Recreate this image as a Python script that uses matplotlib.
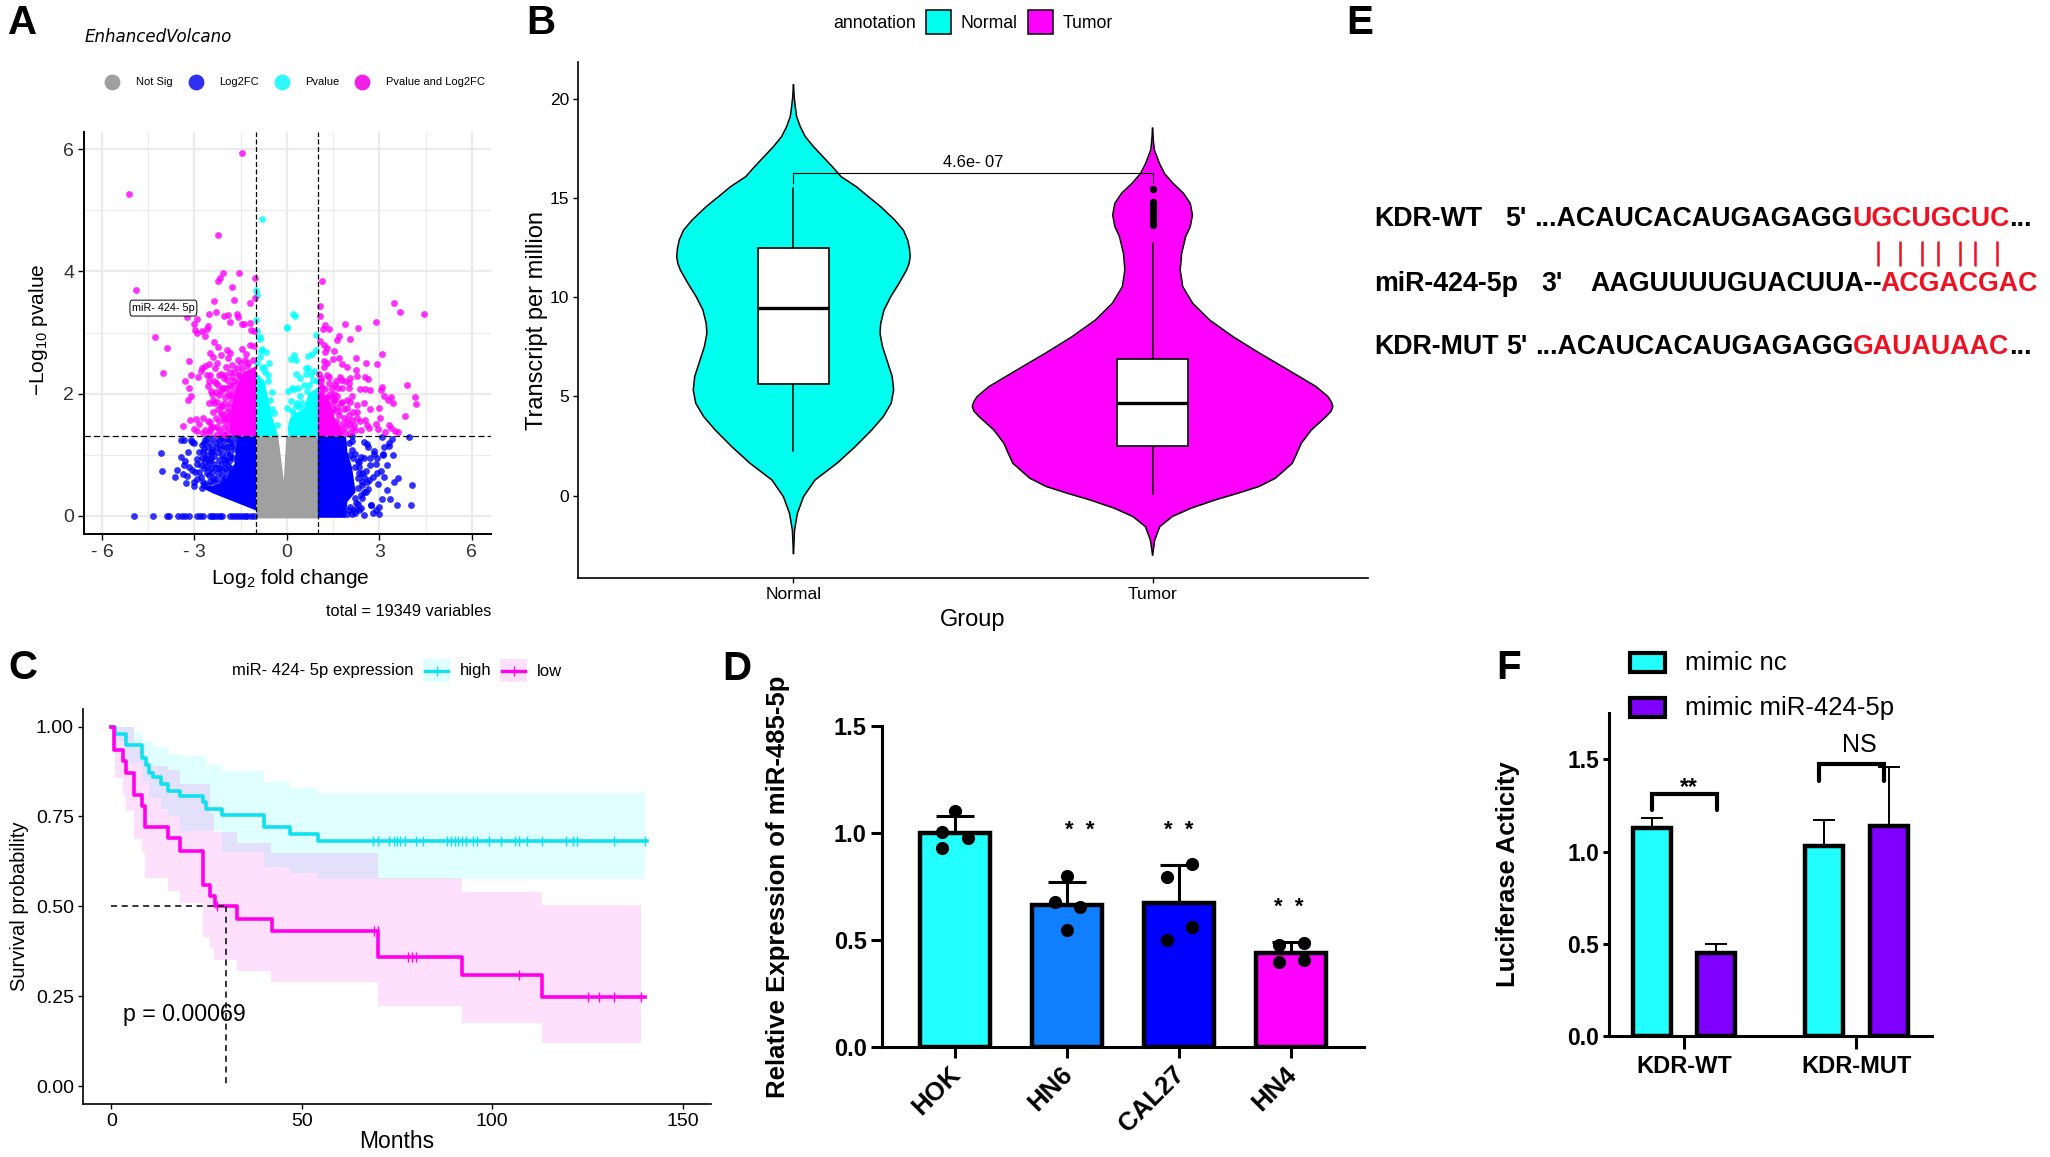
"""Six-panel miR-424-5p figure: volcano, violin, survival, bars, sequences."""

import matplotlib

matplotlib.use("Agg")
import matplotlib.pyplot as plt
from matplotlib.patches import FancyBboxPatch, Rectangle
from matplotlib.transforms import ScaledTranslation

plt.rcParams["font.family"] = ["Liberation Sans", "DejaVu Sans"]
plt.rcParams["mathtext.default"] = "regular"

FIG_W, FIG_H = 2050, 1157
CYAN = "#00FFEE"
MAGENTA = "#FF00FF"
BAR_CYAN = "#22FFFF"
PURPLE = "#7F00FF"
RED = "#EE1122"

# --- panel A: volcano, points read one by one, dense cores as outlines
SIG_X = [-1.45, -5.12, -2.22, -2.06, -2.17, -2.23, -1.55, -1.77, -4.88, -1.04, -2.35, -1.72, -1.2, -1.03,
         -2.54, -2.29, -2.04, -1.92, -1.61, -1.57, -1.85, -1.44, -1.39, -1.2, -3.25, -2.9, -3.0, -2.56,
         -2.58, -2.97, -2.91, -2.76, -2.67, -4.29, -1.16, -1.07, -3.9, -4.03, -3.16, -3.12, -3.32, -3.19,
         -3.1, -3.22, -2.53, -3.36, -3.14, -2.95, -2.85, -3.02, -2.9, -2.72, -2.5, -2.39, -2.71, -2.48,
         -2.39, -2.26, -2.53, -2.02, -2.15, -2.04, -2.37, -2.23, -2.48, -2.14, -2.4, -1.94, -1.86, -1.91,
         -1.45, -1.2, -1.07, -1.34, -2.26, -2.53, -2.64, -2.74, -2.8, -2.88, -2.34, -2.48, -2.15, -2.53,
         -2.55, -2.31, -1.99, -1.77, -1.5, -1.86, -1.61, -1.94, -1.77, -2.31, -2.42, -2.2, -2.04, -2.26,
         -2.15, -1.83, -1.91, -1.96, -1.83, -1.1, -1.3, -1.55, -1.7,
         -2.2, -2.05, -1.85, -2.1, -2.0, -2.35, -2.05, -1.95, -2.1, -1.9, -2.05, -2.2, -1.85, -1.75, -1.6,
         -1.7, -1.45, -1.25, -2.3, -2.2, -1.95, -2.15, -1.9, -2.25, -1.9, -2.45, -1.8, -2.0, -1.85, -2.35,
         -1.75, -1.55, -1.35, -1.6, -2.0, -1.95, -1.8, -2.1, -2.25, -2.4, -2.6, -2.65, -2.3, -2.1, -2.55, -2.45,
         1.15, 1.09, 1.08, 3.47, 3.66, 4.45, 2.88, 1.89, 2.32, 1.23, 1.17, 1.36, 1.68, 1.61, 2.06, 1.06,
         1.21, 1.31, 1.25, 1.54, 3.09, 1.68, 1.49, 2.25, 1.21, 1.31, 1.2, 1.78, 1.95, 2.56, 2.93, 2.25,
         1.04, 2.28, 1.35, 1.71, 2.05, 2.52, 2.63, 1.74, 1.12, 1.58, 1.35, 2.01, 3.89, 1.57, 1.11, 1.25,
         2.02, 2.38, 2.52, 2.68, 3.07, 3.04, 1.11, 1.52, 1.63, 2.1, 3.15, 3.39, 4.17, 3.29, 1.31, 1.52,
         1.94, 1.79, 2.06, 3.44, 2.49, 4.2, 2.27, 1.31, 1.61, 1.96, 3.0, 2.7, 2.28, 3.82, 2.28, 3.02,
         2.36, 2.54, 2.6, 2.66, 2.9, 2.97, 2.41, 2.12, 2.17, 2.1, 3.18, 3.32, 3.39, 3.52, 3.6,
         1.45, 1.6, 1.7, 1.85, 1.9, 1.75, 2.0, 2.0, 1.85, 1.65, 1.45, 1.25, 1.4, 1.15, 1.55,
         1.7, 1.9, 2.05, 1.6, 1.5, 1.8, 1.3, 1.15, 1.5, 1.75, 1.25, 1.95, 2.15, 2.2, 1.1, 1.45, 1.65, 1.8,
         1.9, 1.3]
SIG_Y = [5.93, 5.26, 4.60, 3.97, 3.89, 3.84, 3.98, 3.74, 3.69, 3.89, 3.52, 3.54, 3.48, 3.56,
         3.30, 3.33, 3.27, 3.28, 3.31, 3.25, 3.17, 3.14, 3.14, 3.15, 3.26, 3.22, 3.14, 3.10,
         3.05, 3.04, 3.0, 3.02, 2.95, 2.92, 3.04, 3.02, 2.74, 2.34, 2.54, 2.30, 2.2, 2.09,
         1.96, 1.89, 1.85, 1.47, 1.57, 1.58, 1.51, 1.42, 1.39, 1.6, 1.54, 1.7, 1.36, 1.4,
         1.46, 1.46, 1.38, 1.33, 1.68, 1.58, 2.84, 2.76, 2.67, 2.63, 2.6, 2.72, 2.66, 2.59,
         2.73, 2.8, 2.78, 2.65, 2.51, 2.49, 2.45, 2.42, 2.37, 2.27, 2.42, 2.31, 2.33, 2.21,
         2.13, 2.17, 2.44, 2.47, 2.5, 2.36, 2.42, 2.22, 2.28, 2.02, 2.0, 1.98, 2.09, 1.87,
         1.8, 1.98, 1.79, 1.62, 1.54, 2.55, 2.45, 2.3, 2.2,
         2.3, 2.25, 2.15, 2.1, 1.95, 1.85, 1.85, 1.7, 1.65, 1.45, 1.45, 1.55, 1.85, 2.05, 2.2,
         2.35, 2.4, 2.5, 1.6, 1.4, 1.35, 2.05, 2.0, 2.15, 1.6, 2.05, 1.4, 1.55, 1.7, 2.2,
         2.15, 2.3, 2.55, 2.55, 2.3, 2.1, 1.95, 1.8, 1.75, 1.9, 2.3, 1.4, 1.32, 1.35, 1.55, 1.45,
         3.84, 3.44, 3.27, 3.48, 3.33, 3.31, 3.17, 3.14, 3.07, 3.12, 3.05, 3.05, 2.95, 2.88, 2.89, 2.86,
         2.79, 2.75, 2.68, 2.70, 2.65, 2.58, 2.56, 2.58, 2.54, 2.50, 2.44, 2.49, 2.44, 2.50, 2.49, 2.39,
         2.32, 2.29, 2.27, 2.27, 2.25, 2.28, 2.24, 2.23, 2.21, 2.2, 2.18, 2.17, 2.15, 2.14, 2.12, 2.08,
         2.1, 2.08, 2.07, 2.06, 2.11, 2.06, 2.01, 2.0, 1.96, 1.97, 1.96, 1.95, 1.94, 1.9, 1.93, 1.9,
         1.9, 1.86, 1.87, 1.85, 1.84, 1.83, 1.82, 1.79, 1.78, 1.76, 1.77, 1.75, 1.7, 1.63, 1.6, 1.6,
         1.56, 1.57, 1.48, 1.44, 1.5, 1.42, 1.4, 1.57, 1.48, 1.44, 1.38, 1.48, 1.44, 1.39, 1.37,
         1.7, 1.55, 1.65, 1.6, 1.45, 1.4, 1.5, 1.65, 1.75, 1.72, 1.85, 1.75, 2.0, 2.1, 1.9,
         1.35, 1.35, 1.35, 1.45, 1.75, 1.5, 1.95, 1.85, 1.95, 1.85, 1.6, 1.55, 1.7, 1.4, 2.25, 2.1, 2.1, 2.1,
         2.2, 2.3]
PVAL_X = [-0.81, -1.0, -0.98, -1.0, 0.2, 0.0, -0.96, -0.88, -0.88, -0.85, -0.67, -0.58, -0.75, -0.96, -0.88,
          -0.62, -0.6, -0.48, -0.42, -0.31, -0.8, 0.25, 0.01, 0.95, 0.95, 0.82, 0.67, 0.23, 0.12, 0.28, 0.61,
          0.69, 0.88, 0.77, 0.3, 0.44, 0.63, 0.55, 0.98, 0.03, 0.17, 0.23, 0.36, 0.71, 0.44, 0.66, 0.77, 0.14,
          0.01, 0.34, 0.23, -0.55, -0.7, -0.82, -0.47, 0.5, 0.85, 0.42, 0.15, 0.28]
PVAL_Y = [4.85, 3.7, 3.62, 3.21, 3.3, 3.09, 3.02, 2.93, 2.9, 2.69, 2.68, 2.51, 2.44, 2.51, 2.6,
          2.31, 2.2, 2.03, 1.68, 1.49, 2.73, 3.27, 3.07, 2.96, 2.71, 2.65, 2.61, 2.63, 2.56, 2.55, 2.42,
          2.42, 2.37, 2.32, 2.32, 2.25, 2.32, 2.14, 2.21, 2.05, 2.1, 2.07, 2.09, 2.15, 1.96, 2.05, 1.96, 1.88,
          1.77, 1.85, 1.66, 1.9, 2.35, 2.42, 1.75, 1.85, 2.22, 1.78, 1.72, 1.8]
FC_X = [-4.08, -4.04, -3.45, -3.34, -3.12, -3.07, -3.02, -3.2, -3.44, -3.29, -3.34, -3.18, -3.07, -2.98,
        -3.56, -3.36, -3.63, -3.23, -3.26, -3.02, -3.02, -2.8, -2.71, -2.75, -2.69, -2.75, -2.71, -2.93,
        -2.42, -2.42, -2.64, -2.48, -2.17, -2.15, -2.53, -2.8, -2.69, -2.42, -2.1, -1.94, -1.86, -1.99,
        -1.83, -2.2, -2.31, -2.53, -2.48, -2.26, -1.83, -1.66,
        -2.6, -2.4, -2.05, -1.95, -2.3, -2.05, -1.75, -2.6, -2.35, -2.25, -2.15, -2.0, -1.9, -2.05, -1.95,
        -2.35, -2.6, -2.25, -2.1, -2.4, -2.6, -2.85, -2.55, -2.35, -2.15, -2.0, -2.7, -2.9, -2.2, -2.45,
        -1.8, -1.88, -1.75, -2.85, -2.55, -2.3, -2.65, -1.7, -1.78,
        -2.65, -2.5, -2.2, -2.45, -2.15, -1.85, -1.95, -2.1, -2.3, -2.05, -1.8, -2.45, -2.75, -2.9, -2.7, -2.0,
        -4.97, -4.34, -3.9, -3.83, -3.54, -3.39, -3.29, -3.16, -2.91, -2.83, -2.71, -2.5, -2.42, -2.35,
        -2.26, -2.18, -2.1, -1.86, -1.75, -1.66, -1.56, -1.45, -1.36, -1.29, -1.18, -1.07,
        3.97, 3.09, 3.42, 3.31, 3.32, 2.1, 2.1, 2.5, 2.6, 2.63, 3.15, 3.45, 3.12, 2.84, 2.82, 2.69, 2.93,
        3.11, 2.39, 2.2, 2.12, 3.25, 2.88, 2.71, 2.5, 2.33, 3.06, 2.91, 2.55, 2.35, 3.15, 2.8, 2.66, 2.5,
        3.59, 3.47, 4.07, 2.94, 3.25, 2.63, 2.5, 2.41, 3.09, 3.33, 2.74, 2.74, 3.58, 4.03, 2.98, 2.88,
        2.8, 3.0, 2.5, 2.41, 2.3, 2.23,
        2.0, 2.05, 2.15, 2.3, 2.2, 2.35, 2.45, 2.3, 2.45, 2.6, 2.3, 2.45, 2.2, 2.25, 2.35, 2.15, 2.05, 2.2,
        2.1, 2.45, 2.55, 2.0, 1.95]
FC_Y = [1.03, 0.74, 1.25, 1.25, 1.25, 1.21, 1.19, 1.04, 0.96, 0.9, 0.84, 0.8, 0.75, 0.72,
        0.75, 0.69, 0.63, 0.66, 0.54, 0.56, 0.49, 0.64, 0.56, 0.45, 1.19, 1.16, 1.04, 0.93,
        1.1, 1.04, 0.94, 0.91, 1.16, 1.28, 0.89, 0.83, 0.78, 0.72, 1.0, 1.13, 1.02, 0.91,
        0.97, 0.91, 0.78, 0.67, 0.58, 0.48, 1.27, 1.28,
        1.27, 1.28, 1.25, 1.26, 1.2, 1.15, 1.2, 1.0, 0.98, 1.05, 0.85, 0.78, 0.82, 0.95, 1.05,
        0.85, 0.8, 0.7, 0.65, 0.62, 0.7, 0.72, 0.5, 0.55, 0.55, 0.62, 0.52, 0.6, 0.78, 0.78,
        1.12, 0.9, 0.95, 1.05, 1.12, 1.12, 0.88, 1.1, 0.72,
        1.25, 1.2, 1.25, 1.05, 1.1, 1.2, 0.72, 0.75, 0.6, 0.55, 0.78, 0.95, 0.95, 0.85, 1.1, 0.88,
        0, 0, 0, 0, 0, 0, 0, 0, 0, 0, 0, 0, 0, 0,
        0, 0, 0, 0, 0, 0, 0, 0, 0, 0, 0, 0,
        1.29, 1.29, 1.26, 1.19, 1.14, 1.3, 1.23, 1.21, 1.17, 1.12, 1.12, 0.99, 1.02, 1.06, 1.02, 0.95, 0.94,
        1.0, 0.97, 1.02, 1.08, 0.83, 0.85, 0.84, 0.94, 0.89, 0.74, 0.71, 0.73, 0.7, 0.63, 0.64, 0.59, 0.64,
        0.62, 0.56, 0.51, 0.52, 0.43, 0.44, 0.4, 0.35, 0.27, 0.27, 0.18, 0.18, 0.18, 0.18, 0.14, 0.1,
        0.05, 0.03, 0.01, 0.13, 0.19, 0.12,
        1.2, 1.0, 0.95, 0.9, 0.8, 0.8, 0.7, 0.62, 0.55, 0.55, 0.45, 0.5, 0.3, 0.22, 0.1, 0.1, 0.15, 0.05,
        0.03, 0.3, 0.4, 0.1, 0.03]

GREY_CORE_X = [-1.0, -0.28, -0.1, -0.02, 1.0, 1.0, -1.0]
GREY_CORE_Y = [1.3, 1.3, 0.58, 1.3, 1.3, -0.04, -0.04]
BLUE_LEFT_X = [-1.0, -1.4, -1.9, -2.4, -2.8, -2.3, -1.95, -1.7, -1.62, -1.0]
BLUE_LEFT_Y = [0.09, 0.17, 0.27, 0.37, 0.47, 0.5, 0.62, 0.85, 1.3, 1.3]
BLUE_RIGHT_X = [1.0, 1.92, 1.96, 2.12, 2.23, 1.96, 1.92, 1.0]
BLUE_RIGHT_Y = [1.3, 1.3, 1.05, 0.78, 0.39, 0.23, -0.03, -0.03]
CYAN_LEFT_X = [-1.0, -0.28, -0.4, -0.52, -0.62, -0.72, -1.0]
CYAN_LEFT_Y = [1.3, 1.3, 1.5, 1.7, 1.95, 2.2, 2.35]
CYAN_RIGHT_X = [0.05, 1.0, 1.0, 0.7, 0.55, 0.35, 0.1, 0.03]
CYAN_RIGHT_Y = [1.3, 1.3, 2.1, 2.0, 1.75, 1.7, 1.6, 1.45]
MAG_LEFT_X = [-1.0, -1.8, -1.85, -1.75, -1.65, -1.4, -1.0]
MAG_LEFT_Y = [1.3, 1.3, 1.6, 1.9, 2.1, 2.35, 2.45]
MAG_RIGHT_X = [1.0, 1.8, 1.75, 1.55, 1.4, 1.2, 1.0]
MAG_RIGHT_Y = [1.3, 1.3, 1.45, 1.6, 1.85, 2.0, 2.05]

# --- panel B: violin outlines (half width in category units)
NORMAL_Y = [20.69, 20.10, 19.60, 19.09, 18.59, 18.09, 17.58, 17.08, 16.58, 16.07, 15.57, 15.06, 14.56,
            13.89, 13.38, 12.88, 12.46, 12.04, 11.70, 11.37, 10.70, 10.03, 9.35, 8.68, 8.18, 7.51, 6.67, 6.00,
            5.32, 4.65, 3.98, 3.31, 2.47, 1.63, 0.79, -0.05, -0.89, -1.73, -2.91]
NORMAL_HALF = [0, .002, .005, .009, .019, .033, .056, .082, .108, .133, .175, .209, .243,
               .282, .306, .318, .323, .325, .322, .315, .294, .271, .252, .243, .241, .248, .263, .275,
               .279, .272, .250, .218, .172, .121, .060, .028, .011, .003, 0]
TUMOR_Y = [18.51, 17.92, 17.42, 16.75, 16.24, 15.74, 15.24, 14.73, 14.14, 13.56, 13.05, 12.21, 11.37,
           10.53, 9.69, 8.85, 8.01, 7.18, 6.34, 5.50, 5.0, 4.72, 4.49, 4.25, 3.98, 3.31, 2.64, 2.14, 1.63, 0.88,
           0.46, 0.12, -0.21, -0.63, -1.05, -1.56, -2.23, -2.98]
TUMOR_HALF = [0, .002, .005, .019, .033, .057, .086, .105, .111, .105, .092, .081, .077,
              .084, .112, .159, .224, .298, .377, .455, .488, .498, .502, .497, .483, .442, .414, .402, .389, .342,
              .296, .237, .175, .107, .055, .020, .006, 0]
BOX_STATS = [
    {"low": 2.27, "q1": 5.63, "med": 9.47, "q3": 12.49, "high": 15.48},
    {"low": 0.09, "q1": 2.52, "med": 4.69, "q3": 6.87, "high": 12.72},
]
TUMOR_OUTLIERS = [15.44, 14.82, 14.65, 14.48, 14.31, 14.15, 13.98, 13.81, 13.64]

# --- panel C: Kaplan-Meier steps
HIGH_T = [0, 1, 4, 8.2, 9.2, 10, 11, 13, 15, 18, 24, 25, 29, 40, 47, 54.2, 140.5]
HIGH_S = [1.0, .98, .948, .913, .893, .872, .86, .84, .82, .806, .79, .772, .755, .72, .70, .683, .683]
HIGH_CENS = [68.8, 69.9, 73, 74.1, 75.1, 75.9, 77, 80, 81.9, 88, 89.2, 90.2, 91.1, 92.1, 93, 95, 96.1,
             99.2, 102.2, 106, 107, 109, 113, 119.3, 121.2, 122.2, 132, 140.1]
LOW_T = [0, 0.7, 3.1, 4, 6, 8.2, 9, 15, 18, 24, 26, 27.2, 33, 42.2, 70, 92, 113, 140]
LOW_S = [1.0, .935, .905, .87, .81, .78, .72, .69, .655, .56, .53, .50, .466, .432, .36, .31, .247, .247]
LOW_CENS = [27.8, 69, 69.9, 78, 78.9, 80, 107, 125, 128, 132, 139]
HIGH_UP_T = [0, 6, 8, 11, 15, 18, 25, 29, 40, 47, 54, 140]
HIGH_UP_S = [1.0, .985, .96, .944, .925, .917, .893, .877, .845, .828, .814, .814]
HIGH_LO_T = [0, 1, 4, 8.2, 10, 13, 15, 18, 29, 40, 47, 54, 140]
HIGH_LO_S = [1.0, .96, .90, .85, .80, .77, .75, .71, .651, .61, .592, .575, .575]
LOW_UP_T = [0, 6, 9, 15, 18, 26, 27, 33, 42, 70, 92, 113, 139]
LOW_UP_S = [1.0, .94, .89, .88, .84, .76, .708, .675, .647, .578, .541, .504, .504]
LOW_LO_T = [0, 1, 3, 4, 6, 8, 9, 15, 18, 24, 26, 27, 33, 42, 70, 92, 113, 139]
LOW_LO_S = [1.0, .856, .81, .766, .687, .652, .578, .543, .508, .416, .383, .352, .32, .29, .224, .176, .12, .12]

# --- panel D
CELL_LINES = ["HOK", "HN6", "CAL27", "HN4"]
CELL_VALUES = [1.0, 0.665, 0.675, 0.44]
CELL_ERR_TOP = [1.08, 0.772, 0.851, 0.489]
CELL_COLORS = [BAR_CYAN, "#0F7FFF", "#0000FF", MAGENTA]
CELL_DOTS = [
    [(0, 1.103), (-0.113, 1.007), (0.113, 0.976), (-0.113, 0.93)],
    [(0, 0.797), (-0.113, 0.677), (0.113, 0.652), (0, 0.545)],
    [(0.113, 0.853), (-0.113, 0.795), (0.113, 0.559), (-0.113, 0.498)],
    [(-0.113, 0.478), (0.113, 0.485), (-0.113, 0.398), (0.113, 0.408)],
]
STAR_X = [1.108, 1.995, 2.98]
STAR_Y = [1.01, 1.01, 0.65]

# --- panel F
CONSTRUCTS = ["KDR-WT", "KDR-MUT"]
NC_VALUES = [1.13, 1.03]
MIMIC_VALUES = [0.45, 1.14]
NC_ERR_TOP = [1.185, 1.174]
MIMIC_ERR_TOP = [0.50, 1.457]

# --- panel E: (text, colour, left edge px) per row
SEQ_ROWS = [
    (219, [("KDR-WT", "black", 1374), ("5'", "black", 1505), ("...ACAUCACAUGAGAGG", "black", 1534),
           ("UGCUGCUC", RED, 1852), ("...", "black", 2009)]),
    (284, [("miR-424-5p", "black", 1374), ("3'", "black", 1541), ("AAGUUUUGUACUUA--", "black", 1590),
           ("ACGACGAC", RED, 1880)]),
    (347, [("KDR-MUT", "black", 1374), ("5'", "black", 1506), ("...ACAUCACAUGAGAGG", "black", 1535),
           ("GAUAUAAC", RED, 1853), ("...", "black", 2009)]),
]
PAIR_X = [1878, 1900, 1922, 1938, 1960, 1975, 1997]


def axes_px(fig, left, top, right, bottom):
    """Axes placed by reference pixel edges."""
    return fig.add_axes([left / FIG_W, 1 - bottom / FIG_H, (right - left) / FIG_W, (bottom - top) / FIG_H])


def classic(ax, lw=1.1):
    for side in ("top", "right"):
        ax.spines[side].set_visible(False)
    for side in ("left", "bottom"):
        ax.spines[side].set_linewidth(lw)


def draw_volcano(fig):
    ax = axes_px(fig, 84, 132, 491, 534)
    ax.set_xlim(-6.58, 6.62)
    ax.set_ylim(-0.295, 6.28)
    classic(ax, 1.4)
    ax.set_axisbelow(True)
    ax.set_xticks([-6, -3, 0, 3, 6], ["- 6", "- 3", "0", "3", "6"])
    ax.set_yticks([0, 2, 4, 6])
    ax.set_xticks([-4.5, -1.5, 1.5, 4.5], minor=True)
    ax.set_yticks([1, 3, 5], minor=True)
    ax.grid(which="major", color="#EBEBEB", lw=1.6)
    ax.grid(which="minor", color="#EBEBEB", lw=0.8)
    ax.tick_params(which="minor", length=0)
    ax.tick_params(which="major", labelsize=14, labelcolor="#333333", length=4, width=1, pad=3)

    ax.fill(GREY_CORE_X, GREY_CORE_Y, color="#A0A0A0", lw=0)
    ax.fill(BLUE_LEFT_X, BLUE_LEFT_Y, color="#0000FF", lw=0)
    ax.fill(BLUE_RIGHT_X, BLUE_RIGHT_Y, color="#0000FF", lw=0)
    ax.fill(CYAN_LEFT_X, CYAN_LEFT_Y, color="#00FFFF", lw=0)
    ax.fill(CYAN_RIGHT_X, CYAN_RIGHT_Y, color="#00FFFF", lw=0)
    ax.fill(MAG_LEFT_X, MAG_LEFT_Y, color=MAGENTA, lw=0)
    ax.fill(MAG_RIGHT_X, MAG_RIGHT_Y, color=MAGENTA, lw=0)
    ax.scatter(FC_X, FC_Y, s=24, color="#0000FF", alpha=0.8, lw=0)
    ax.scatter(PVAL_X, PVAL_Y, s=24, color="#00FFFF", alpha=0.8, lw=0)
    ax.scatter(SIG_X, SIG_Y, s=24, color=MAGENTA, alpha=0.8, lw=0)

    for xv in (-1, 1):
        ax.axvline(xv, color="black", lw=0.9, dashes=(4, 2))
    ax.axhline(1.3, color="black", lw=0.9, dashes=(5, 2.5))
    ax.add_patch(FancyBboxPatch((-5.09, 3.27), 2.17, 0.26, boxstyle="round,pad=0,rounding_size=0.07",
                                fc="white", ec="black", lw=0.7, mutation_aspect=1, zorder=5))
    ax.text(-4.0, 3.40, "miR- 424- 5p", fontsize=7.8, ha="center", va="center", zorder=6)


def draw_violin(fig):
    ax = axes_px(fig, 578, 62, 1368, 578)
    ax.set_xlim(-0.6, 1.6)
    ax.set_ylim(-4.15, 21.85)
    classic(ax, 1.2)
    outlines = [(NORMAL_Y, NORMAL_HALF, CYAN), (TUMOR_Y, TUMOR_HALF, MAGENTA)]
    for pos, (ys, half, color) in enumerate(outlines):
        left = [pos - h for h in half]
        right = [pos + h for h in half]
        ax.fill_betweenx(ys, left, right, color=color, lw=0)
        ax.plot(left, ys, color="black", lw=1.1)
        ax.plot(right, ys, color="black", lw=1.1)
    for pos, st in enumerate(BOX_STATS):
        ax.plot([pos, pos], [st["low"], st["q1"]], color="black", lw=1.1, zorder=3)
        ax.plot([pos, pos], [st["q3"], st["high"]], color="black", lw=1.1, zorder=3)
        ax.add_patch(Rectangle((pos - 0.1, st["q1"]), 0.2, st["q3"] - st["q1"], fc="white", ec="black",
                               lw=1.2, zorder=3))
        ax.plot([pos - 0.1, pos + 0.1], [st["med"], st["med"]], color="black", lw=2.4, zorder=4,
                solid_capstyle="butt")
    ax.scatter([1] * len(TUMOR_OUTLIERS), TUMOR_OUTLIERS, s=28, color="black", lw=0, zorder=4)
    ax.plot([0, 0, 1, 1], [15.77, 16.24, 16.24, 15.77], color="black", lw=0.8, zorder=5)
    ax.text(0.5, 16.8, "4.6e- 07", fontsize=11.8, ha="center", va="center")
    ax.set_xticks([0, 1], ["Normal", "Tumor"])
    ax.set_yticks([0, 5, 10, 15, 20])
    ax.tick_params(labelsize=12.5, length=3.5, width=1, pad=3)
    ax.set_xlabel("Group", fontsize=17, labelpad=5)
    ax.set_ylabel("Transcript per million", fontsize=17, labelpad=1)


def draw_survival(fig):
    ax = axes_px(fig, 83, 709, 711, 1104)
    ax.set_xlim(-7.4, 157.4)
    ax.set_ylim(-0.05, 1.049)
    classic(ax, 1.2)
    # bands are drawn as paired step edges on their own time grids
    for up_t, up_s, lo_t, lo_s, color in [
        (HIGH_UP_T, HIGH_UP_S, HIGH_LO_T, HIGH_LO_S, "#00FFFF"),
        (LOW_UP_T, LOW_UP_S, LOW_LO_T, LOW_LO_S, "#FF00EE"),
    ]:
        xs = sorted(set(up_t) | set(lo_t))
        upper = [next(s for t, s in zip(reversed(up_t), reversed(up_s)) if t <= x) for x in xs]
        lower = [next(s for t, s in zip(reversed(lo_t), reversed(lo_s)) if t <= x) for x in xs]
        ax.fill_between(xs, lower, upper, step="post", color=color, alpha=0.12, lw=0)
    ax.step(HIGH_T, HIGH_S, where="post", color="#10E0F0", lw=2.6)
    ax.step(LOW_T, LOW_S, where="post", color="#FF00EE", lw=2.6)
    ax.plot(HIGH_CENS, [HIGH_S[-1]] * len(HIGH_CENS), ls="", marker="|", ms=7, mew=1, color="#10E0F0")
    low_at = [next(s for t, s in zip(reversed(LOW_T), reversed(LOW_S)) if t <= c) for c in LOW_CENS]
    ax.plot(LOW_CENS, low_at, ls="", marker="|", ms=7, mew=1, color="#FF00EE")
    ax.plot([0, 30], [0.5, 0.5], color="black", lw=1.1, dashes=(4, 3))
    ax.plot([30, 30], [0.5, 0], color="black", lw=1.1, dashes=(4, 3))
    ax.text(3, 0.198, "p = 0.00069", fontsize=16.7, ha="left", va="center")
    ax.set_xticks([0, 50, 100, 150])
    ax.set_yticks([0, 0.25, 0.5, 0.75, 1.0], ["0.00", "0.25", "0.50", "0.75", "1.00"])
    ax.tick_params(labelsize=14, length=3.5, width=1, pad=3)
    ax.set_xlabel("Months", fontsize=16.5, labelpad=0)
    ax.set_ylabel("Survival probability", fontsize=14.5, labelpad=5)


def prism_axes(ax, labelsize):
    classic(ax, 2.2)
    ax.tick_params(axis="both", width=2.2, length=8, labelsize=labelsize, pad=3)
    for label in ax.get_yticklabels() + ax.get_xticklabels():
        label.set_fontweight("bold")


def draw_cell_bars(fig):
    ax = axes_px(fig, 882, 726, 1364, 1047)
    ax.set_xlim(-0.653, 3.65)
    ax.set_ylim(0, 1.5)
    positions = range(len(CELL_LINES))
    ax.bar(positions, CELL_VALUES, width=0.62, color=CELL_COLORS, edgecolor="black", linewidth=3.2, zorder=2)
    for pos, value, top, dots in zip(positions, CELL_VALUES, CELL_ERR_TOP, CELL_DOTS):
        ax.errorbar(pos, value, yerr=[[0], [top - value]], color="black", elinewidth=2.2, capsize=14,
                    capthick=2.2, zorder=3)
        ax.scatter([pos + d[0] for d in dots], [d[1] for d in dots], s=90, color="black", lw=0, zorder=4,
                   clip_on=False)
    for xv, yv in zip(STAR_X, STAR_Y):
        ax.text(xv, yv, "*  *", fontsize=16, fontweight="bold", ha="center", va="center")
    ax.set_xticks(list(positions), CELL_LINES)
    ax.set_yticks([0, 0.5, 1.0, 1.5], ["0.0", "0.5", "1.0", "1.5"])
    prism_axes(ax, 17)
    # rotated labels sit a little left of their ticks in the original
    nudge = ScaledTranslation(-5 / 72, 0, fig.dpi_scale_trans)
    for label in ax.get_xticklabels():
        label.set_fontsize(18.5)
        label.set_rotation(45)
        label.set_ha("right")
        label.set_rotation_mode("anchor")
        label.set_transform(label.get_transform() + nudge)
    ax.set_ylabel("Relative Expression of miR-485-5p", fontsize=18.5, fontweight="bold")
    ax.yaxis.set_label_coords(-0.19, 0.50)


def draw_luciferase(fig):
    ax = axes_px(fig, 1609, 713, 1932, 1036)
    ax.set_xlim(-0.436, 1.44)
    ax.set_ylim(0, 1.752)
    groups = [0, 1]
    offset = 0.188
    width = 0.22
    ax.bar([g - offset for g in groups], NC_VALUES, width=width, color=BAR_CYAN, edgecolor="black", linewidth=3.2)
    ax.bar([g + offset for g in groups], MIMIC_VALUES, width=width, color=PURPLE, edgecolor="black", linewidth=3.2)
    for shift, values, tops in [(-offset, NC_VALUES, NC_ERR_TOP), (offset, MIMIC_VALUES, MIMIC_ERR_TOP)]:
        for g, value, top in zip(groups, values, tops):
            ax.errorbar(g + shift, value, yerr=[[0], [top - value]], color="black", elinewidth=1.4, capsize=8,
                        capthick=1.4, zorder=1)
    for xs, top, drop in [((-0.186, 0.19), 1.315, 1.225), ((0.785, 1.16), 1.475, 1.384)]:
        ax.plot([xs[0], xs[0], xs[1], xs[1]], [drop, top, top, drop], color="black", lw=3,
                solid_capstyle="round", solid_joinstyle="miter", zorder=5)
    ax.text(0.03, 1.35, "**", fontsize=16.5, fontweight="bold", ha="center", va="center")
    ax.text(1.017, 1.578, "NS", fontsize=18, ha="center", va="center")
    ax.set_xticks(groups, CONSTRUCTS)
    ax.set_yticks([0, 0.5, 1.0, 1.5], ["0.0", "0.5", "1.0", "1.5"])
    prism_axes(ax, 16.5)
    ax.tick_params(axis="y", length=4)
    ax.tick_params(axis="x", labelsize=17, length=9, pad=5)
    ax.set_ylabel("Luciferase Acticity", fontsize=18.4, fontweight="bold")
    ax.yaxis.set_label_coords(-0.275, 0.5)


def draw_overlay(fig):
    """Panel letters, hand-placed legends and the sequence panel, in pixel units."""
    ov = fig.add_axes([0, 0, 1, 1], zorder=10)
    ov.set_xlim(0, FIG_W)
    ov.set_ylim(FIG_H, 0)
    ov.axis("off")

    for letter, xp, yp in [("A", 8, 23), ("B", 526, 23), ("E", 1346, 23), ("C", 8, 668), ("D", 722, 669),
                           ("F", 1496, 668)]:
        ov.text(xp, yp, letter, fontsize=29, fontweight="bold", ha="left", va="center")

    # A
    ov.text(85, 37, "EnhancedVolcano", fontsize=12, style="italic", family="DejaVu Sans", va="center")
    for xp, color, label, tx in [(112, "#A0A0A0", "Not Sig", 136), (196, "#3030F0", "Log2FC", 219),
                                 (282, "#30F8FF", "Pvalue", 305), (362, "#F020E8", "Pvalue and Log2FC", 386)]:
        ov.scatter([xp], [82], s=130, color=color, lw=0)
        ov.text(tx, 82, label, fontsize=8, va="center")
    ov.text(39, 330, "$-$Log$_{10}$ pvalue", fontsize=15, rotation=90, ha="center", va="center")
    ov.text(290, 578, "Log$_{2}$ fold change", fontsize=15, ha="center", va="center")
    ov.text(491, 612, "total = 19349 variables", fontsize=11.8, ha="right", va="center")

    # B
    ov.text(833, 23, "annotation", fontsize=12.7, va="center")
    for xp, color, label, tx in [(926, CYAN, "Normal", 961), (1028, MAGENTA, "Tumor", 1063)]:
        ov.add_patch(Rectangle((xp, 10), 25, 24, fc=color, ec="black", lw=1.1))
        ov.text(tx, 23, label, fontsize=12.7, va="center")

    # C
    ov.text(232, 671, "miR- 424- 5p expression", fontsize=12, va="center")
    for xp, fill, line, label, tx in [(423, "#E0FFFF", "#10E0F0", "high", 460), (500, "#FFE0FD", "#FF00EE", "low", 537)]:
        ov.add_patch(Rectangle((xp, 659), 27, 23, fc=fill, ec="none"))
        ov.plot([xp + 2, xp + 25], [671, 671], color=line, lw=2.4)
        ov.plot([xp + 13.5], [671], marker="|", ms=7, mew=1, color=line)
        ov.text(tx, 671, label, fontsize=12, va="center")

    # F legend
    for yp, color, label in [(653, BAR_CYAN, "mimic nc"), (698, PURPLE, "mimic miR-424-5p")]:
        ov.add_patch(Rectangle((1630, yp), 35, 19, fc=color, ec="black", lw=3))
        ov.text(1685, yp + 10, label, fontsize=18.5, va="center")

    # E
    for yp, parts in SEQ_ROWS:
        for text, color, xp in parts:
            ov.text(xp, yp, text, fontsize=19.3, fontweight="bold", color=color, va="center")
    ov.vlines(PAIR_X, 241, 266, color=RED, lw=1.8)


def main():
    fig = plt.figure(figsize=(FIG_W / 100, FIG_H / 100), dpi=100, facecolor="white")
    draw_volcano(fig)
    draw_violin(fig)
    draw_survival(fig)
    draw_cell_bars(fig)
    draw_luciferase(fig)
    draw_overlay(fig)
    fig.savefig("out.png", dpi=100)


if __name__ == "__main__":
    main()
